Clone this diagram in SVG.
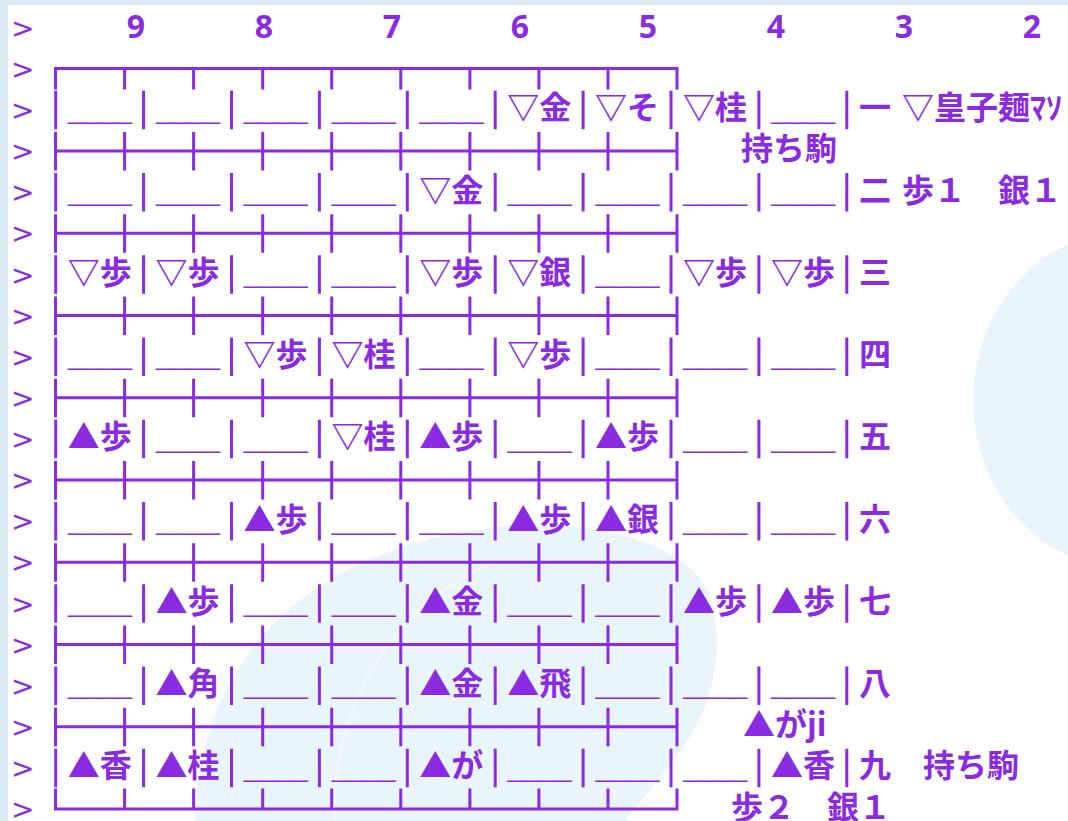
<svg xmlns="http://www.w3.org/2000/svg" xmlns:xlink="http://www.w3.org/1999/xlink" width="1068" height="821" viewBox="0 0 1068 821">
<style>
.ln{fill:none;stroke:#8a2be2;stroke-width:3}
.lnsq{fill:none;stroke:#8a2be2;stroke-width:3;stroke-linecap:square}
.t{font-family:"Noto Sans CJK JP","Noto Sans",sans-serif;font-weight:700;font-size:32px;fill:#8a2be2}
.c{text-anchor:middle}
.us{font-family:"Liberation Sans",sans-serif;font-size:24px;fill:#8a2be2}
.gt{font-family:"DejaVu Sans",sans-serif;font-size:28px;fill:#8a2be2}
.num{font-family:"Noto Sans",sans-serif;font-weight:700;font-size:32px;fill:#8a2be2;text-anchor:middle}
</style>
<defs>
<g id="barrow"><path class="ln" d="M55.7 -19V19.5M143.6 -19V19.5M231.5 -19V19.5M319.4 -19V19.5M407.3 -19V19.5M495.2 -19V19.5M583.1 -19V19.5M671 -19V19.5M758.9 -19V19.5M846.8 -19V19.5"/></g>
<g id="midrow"><path class="ln" d="M55.5 0H677M55.5 -19V19.5M124.6 -19V19.5M193.6 -19V19.5M262.7 -19V19.5M331.7 -19V19.5M400.8 -19V19.5M469.9 -19V19.5M538.9 -19V19.5M608 -19V19.5M677 -19V19.5"/></g>
</defs>
<g id="background">
<rect x="0" y="0" width="1068" height="821" fill="#ffffff"/>
<rect x="0" y="0" width="8" height="821" fill="#dbeaf3"/>
<rect x="0" y="0" width="1068" height="5" fill="#dbeaf3"/>
<ellipse cx="1125" cy="400" rx="152" ry="168" fill="#e8f5fd"/>
<path d="M195 821C198 700 260 595 400 548C500 515 625 515 690 568C728 600 722 680 695 728C672 768 640 800 625 821Z" fill="#e8f5fd"/>
<path d="M335 821C330 700 400 600 495 562" fill="none" stroke="#f1f9fe" stroke-width="3"/>
</g>
<g id="prompts">
<text class="gt" x="11" y="37.7">&gt;</text>
<text class="gt" x="11" y="78.8">&gt;</text>
<text class="gt" x="11" y="120">&gt;</text>
<text class="gt" x="11" y="161.1">&gt;</text>
<text class="gt" x="11" y="202.2">&gt;</text>
<text class="gt" x="11" y="243.4">&gt;</text>
<text class="gt" x="11" y="284.5">&gt;</text>
<text class="gt" x="11" y="325.6">&gt;</text>
<text class="gt" x="11" y="366.7">&gt;</text>
<text class="gt" x="11" y="407.9">&gt;</text>
<text class="gt" x="11" y="449">&gt;</text>
<text class="gt" x="11" y="490.1">&gt;</text>
<text class="gt" x="11" y="531.3">&gt;</text>
<text class="gt" x="11" y="572.4">&gt;</text>
<text class="gt" x="11" y="613.5">&gt;</text>
<text class="gt" x="11" y="654.7">&gt;</text>
<text class="gt" x="11" y="695.8">&gt;</text>
<text class="gt" x="11" y="736.9">&gt;</text>
<text class="gt" x="11" y="778">&gt;</text>
<text class="gt" x="11" y="819.2">&gt;</text>
</g>
<g id="column-numbers">
<text class="num" x="136" y="38">9</text>
<text class="num" x="264" y="38">8</text>
<text class="num" x="392" y="38">7</text>
<text class="num" x="520" y="38">6</text>
<text class="num" x="648" y="38">5</text>
<text class="num" x="776" y="38">4</text>
<text class="num" x="904" y="38">3</text>
<text class="num" x="1032" y="38">2</text>
</g>
<g id="connectors">
<path class="lnsq" d="M55.5 68.6H677M55.5 68.6V88.1M124.6 68.6V88.1M193.6 68.6V88.1M262.7 68.6V88.1M331.7 68.6V88.1M400.8 68.6V88.1M469.9 68.6V88.1M538.9 68.6V88.1M608 68.6V88.1M677 68.6V88.1"/>
<use xlink:href="#midrow" y="150.9"/>
<use xlink:href="#midrow" y="233.2"/>
<use xlink:href="#midrow" y="315.4"/>
<use xlink:href="#midrow" y="397.7"/>
<use xlink:href="#midrow" y="479.9"/>
<use xlink:href="#midrow" y="562.2"/>
<use xlink:href="#midrow" y="644.5"/>
<use xlink:href="#midrow" y="726.7"/>
<path class="lnsq" d="M55.5 809H677M55.5 790V809M124.6 790V809M193.6 790V809M262.7 790V809M331.7 790V809M400.8 790V809M469.9 790V809M538.9 790V809M608 790V809M677 790V809"/>
<use xlink:href="#barrow" y="109.8"/>
<use xlink:href="#barrow" y="192"/>
<use xlink:href="#barrow" y="274.3"/>
<use xlink:href="#barrow" y="356.5"/>
<use xlink:href="#barrow" y="438.8"/>
<use xlink:href="#barrow" y="521.1"/>
<use xlink:href="#barrow" y="603.3"/>
<use xlink:href="#barrow" y="685.6"/>
<use xlink:href="#barrow" y="767.8"/>
</g>
<g id="row-1">
<text class="us" y="118.6"><tspan x="68" textLength="64" lengthAdjust="spacingAndGlyphs">____</tspan><tspan x="155.9" textLength="64" lengthAdjust="spacingAndGlyphs">____</tspan><tspan x="243.8" textLength="64" lengthAdjust="spacingAndGlyphs">____</tspan><tspan x="331.7" textLength="64" lengthAdjust="spacingAndGlyphs">____</tspan><tspan x="419.6" textLength="64" lengthAdjust="spacingAndGlyphs">____</tspan><tspan x="771.2" textLength="64" lengthAdjust="spacingAndGlyphs">____</tspan></text>
<text class="t c" y="119.3"><tspan x="539.2">▽金</tspan><tspan x="627.1">▽そ</tspan><tspan x="715">▽桂</tspan></text>
<text class="t" x="859" y="119.3">一</text>
<text class="t" x="902" y="119.3">▽皇子麺ﾏｿ</text>
</g>
<g id="row-1-hand">
<text class="t" x="741" y="160.4">持ち駒</text>
</g>
<g id="row-2">
<text class="us" y="200.8"><tspan x="68" textLength="64" lengthAdjust="spacingAndGlyphs">____</tspan><tspan x="155.9" textLength="64" lengthAdjust="spacingAndGlyphs">____</tspan><tspan x="243.8" textLength="64" lengthAdjust="spacingAndGlyphs">____</tspan><tspan x="331.7" textLength="64" lengthAdjust="spacingAndGlyphs">____</tspan><tspan x="507.5" textLength="64" lengthAdjust="spacingAndGlyphs">____</tspan><tspan x="595.4" textLength="64" lengthAdjust="spacingAndGlyphs">____</tspan><tspan x="683.3" textLength="64" lengthAdjust="spacingAndGlyphs">____</tspan><tspan x="771.2" textLength="64" lengthAdjust="spacingAndGlyphs">____</tspan></text>
<text class="t c" y="201.5"><tspan x="451.3">▽金</tspan></text>
<text class="t" x="859" y="201.5">二</text>
<text class="t" x="902" y="201.5">歩１　銀１</text>
</g>
<g id="row-3">
<text class="us" y="283.1"><tspan x="243.8" textLength="64" lengthAdjust="spacingAndGlyphs">____</tspan><tspan x="331.7" textLength="64" lengthAdjust="spacingAndGlyphs">____</tspan><tspan x="595.4" textLength="64" lengthAdjust="spacingAndGlyphs">____</tspan></text>
<text class="t c" y="283.8"><tspan x="99.7">▽歩</tspan><tspan x="187.6">▽歩</tspan><tspan x="451.3">▽歩</tspan><tspan x="539.2">▽銀</tspan><tspan x="715">▽歩</tspan><tspan x="802.9">▽歩</tspan></text>
<text class="t" x="859" y="283.8">三</text>
</g>
<g id="row-4">
<text class="us" y="365.3"><tspan x="68" textLength="64" lengthAdjust="spacingAndGlyphs">____</tspan><tspan x="155.9" textLength="64" lengthAdjust="spacingAndGlyphs">____</tspan><tspan x="419.6" textLength="64" lengthAdjust="spacingAndGlyphs">____</tspan><tspan x="595.4" textLength="64" lengthAdjust="spacingAndGlyphs">____</tspan><tspan x="683.3" textLength="64" lengthAdjust="spacingAndGlyphs">____</tspan><tspan x="771.2" textLength="64" lengthAdjust="spacingAndGlyphs">____</tspan></text>
<text class="t c" y="366"><tspan x="275.5">▽歩</tspan><tspan x="363.4">▽桂</tspan><tspan x="539.2">▽歩</tspan></text>
<text class="t" x="859" y="366">四</text>
</g>
<g id="row-5">
<text class="us" y="447.6"><tspan x="155.9" textLength="64" lengthAdjust="spacingAndGlyphs">____</tspan><tspan x="243.8" textLength="64" lengthAdjust="spacingAndGlyphs">____</tspan><tspan x="507.5" textLength="64" lengthAdjust="spacingAndGlyphs">____</tspan><tspan x="683.3" textLength="64" lengthAdjust="spacingAndGlyphs">____</tspan><tspan x="771.2" textLength="64" lengthAdjust="spacingAndGlyphs">____</tspan></text>
<text class="t c" y="448.3"><tspan x="99.7">▲歩</tspan><tspan x="363.4">▽桂</tspan><tspan x="451.3">▲歩</tspan><tspan x="627.1">▲歩</tspan></text>
<text class="t" x="859" y="448.3">五</text>
</g>
<g id="row-6">
<text class="us" y="529.9"><tspan x="68" textLength="64" lengthAdjust="spacingAndGlyphs">____</tspan><tspan x="155.9" textLength="64" lengthAdjust="spacingAndGlyphs">____</tspan><tspan x="331.7" textLength="64" lengthAdjust="spacingAndGlyphs">____</tspan><tspan x="419.6" textLength="64" lengthAdjust="spacingAndGlyphs">____</tspan><tspan x="683.3" textLength="64" lengthAdjust="spacingAndGlyphs">____</tspan><tspan x="771.2" textLength="64" lengthAdjust="spacingAndGlyphs">____</tspan></text>
<text class="t c" y="530.6"><tspan x="275.5">▲歩</tspan><tspan x="539.2">▲歩</tspan><tspan x="627.1">▲銀</tspan></text>
<text class="t" x="859" y="530.6">六</text>
</g>
<g id="row-7">
<text class="us" y="612.1"><tspan x="68" textLength="64" lengthAdjust="spacingAndGlyphs">____</tspan><tspan x="243.8" textLength="64" lengthAdjust="spacingAndGlyphs">____</tspan><tspan x="331.7" textLength="64" lengthAdjust="spacingAndGlyphs">____</tspan><tspan x="507.5" textLength="64" lengthAdjust="spacingAndGlyphs">____</tspan><tspan x="595.4" textLength="64" lengthAdjust="spacingAndGlyphs">____</tspan></text>
<text class="t c" y="612.8"><tspan x="187.6">▲歩</tspan><tspan x="451.3">▲金</tspan><tspan x="715">▲歩</tspan><tspan x="802.9">▲歩</tspan></text>
<text class="t" x="859" y="612.8">七</text>
</g>
<g id="row-8">
<text class="us" y="694.4"><tspan x="68" textLength="64" lengthAdjust="spacingAndGlyphs">____</tspan><tspan x="243.8" textLength="64" lengthAdjust="spacingAndGlyphs">____</tspan><tspan x="331.7" textLength="64" lengthAdjust="spacingAndGlyphs">____</tspan><tspan x="595.4" textLength="64" lengthAdjust="spacingAndGlyphs">____</tspan><tspan x="683.3" textLength="64" lengthAdjust="spacingAndGlyphs">____</tspan><tspan x="771.2" textLength="64" lengthAdjust="spacingAndGlyphs">____</tspan></text>
<text class="t c" y="695.1"><tspan x="187.6">▲角</tspan><tspan x="451.3">▲金</tspan><tspan x="539.2">▲飛</tspan></text>
<text class="t" x="859" y="695.1">八</text>
</g>
<g id="row-8-extra">
<text class="t" x="743" y="736.2">▲がji</text>
</g>
<g id="row-9">
<text class="us" y="776.6"><tspan x="243.8" textLength="64" lengthAdjust="spacingAndGlyphs">____</tspan><tspan x="331.7" textLength="64" lengthAdjust="spacingAndGlyphs">____</tspan><tspan x="507.5" textLength="64" lengthAdjust="spacingAndGlyphs">____</tspan><tspan x="595.4" textLength="64" lengthAdjust="spacingAndGlyphs">____</tspan><tspan x="683.3" textLength="64" lengthAdjust="spacingAndGlyphs">____</tspan></text>
<text class="t c" y="777.3"><tspan x="99.7">▲香</tspan><tspan x="187.6">▲桂</tspan><tspan x="451.3">▲が</tspan><tspan x="802.9">▲香</tspan></text>
<text class="t" x="859" y="777.3">九</text>
<text class="t" x="923" y="777.3">持ち駒</text>
</g>
<g id="row-9-hand">
<text class="t" x="731" y="818.5">歩２　銀１</text>
</g>
</svg>
